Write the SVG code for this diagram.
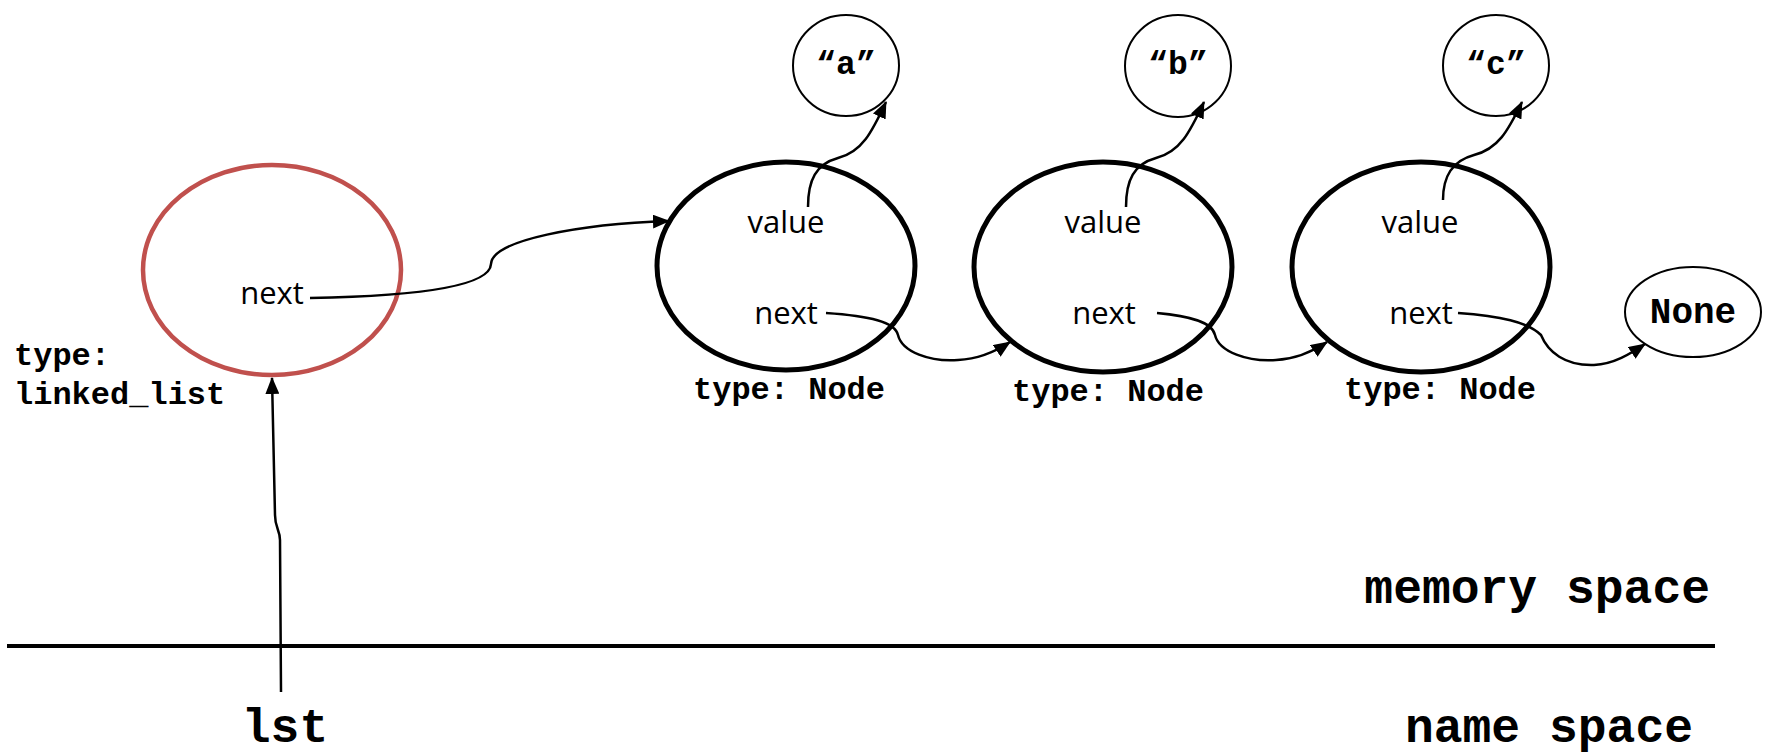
<svg xmlns="http://www.w3.org/2000/svg" width="1772" height="753" viewBox="0 0 1772 753">
<defs>
<marker id="arr" markerUnits="userSpaceOnUse" markerWidth="17" markerHeight="14" refX="16" refY="7" orient="auto">
<path d="M0,0 L17,7 L0,14 z" fill="#000"/>
</marker>
<style>
.lbl{font-family:"Open Sans","Noto Sans",sans-serif;font-size:31px;fill:#000;text-anchor:middle}
.mono{font-family:"Liberation Mono","Courier New",monospace;font-weight:bold;fill:#000}
.node{fill:#fff;stroke:#000;stroke-width:5}
.val{fill:#fff;stroke:#000;stroke-width:2}
.con{fill:none;stroke:#000;stroke-width:2.5;marker-end:url(#arr)}
</style>
</defs>
<rect width="1772" height="753" fill="#fff"/>

<g id="linked_list">
<ellipse cx="272" cy="270" rx="129" ry="105" fill="#fff" stroke="#c0504d" stroke-width="4.5"/>
<text class="lbl" x="272" y="304">next</text>
<text class="mono" x="14" y="365" font-size="32">type:</text>
<text class="mono" x="14" y="404" font-size="32">linked_list</text>
</g>

<g id="node_a">
<ellipse class="node" cx="786" cy="266" rx="129" ry="104"/>
<text class="lbl" x="786" y="233">value</text>
<text class="lbl" x="786" y="324">next</text>
<text class="mono" x="789" y="399" font-size="32" text-anchor="middle">type: Node</text>
</g>
<g id="node_b">
<ellipse class="node" cx="1103" cy="267" rx="129" ry="105"/>
<text class="lbl" x="1103" y="233">value</text>
<text class="lbl" x="1104" y="324">next</text>
<text class="mono" x="1108" y="401" font-size="32" text-anchor="middle">type: Node</text>
</g>
<g id="node_c">
<ellipse class="node" cx="1421" cy="267" rx="129" ry="105"/>
<text class="lbl" x="1420" y="233">value</text>
<text class="lbl" x="1421" y="324">next</text>
<text class="mono" x="1440" y="399" font-size="32" text-anchor="middle">type: Node</text>
</g>

<g id="str_a">
<ellipse class="val" cx="846" cy="65.5" rx="53" ry="50.5"/>
<text class="mono" x="846" y="74" font-size="33" text-anchor="middle">“a”</text>
</g>
<g id="str_b">
<ellipse class="val" cx="1178" cy="66" rx="53" ry="51"/>
<text class="mono" x="1178" y="74" font-size="33" text-anchor="middle">“b”</text>
</g>
<g id="str_c">
<ellipse class="val" cx="1496" cy="65.5" rx="53" ry="50.5"/>
<text class="mono" x="1496" y="74" font-size="33" text-anchor="middle">“c”</text>
</g>
<g id="none">
<ellipse class="val" cx="1693" cy="312" rx="68" ry="45"/>
<text class="mono" x="1693" y="323" font-size="36" text-anchor="middle">None</text>
</g>

<g id="connectors">
<path class="con" d="M310,298 C420,296 490,286 491,264 C492,240 580,224 669,221"/>
<path class="con" d="M808,207 C808,180 816,164 838,158 C862,152 872,132 886,102"/>
<path class="con" d="M1126,207 C1126,180 1134,164 1156,158 C1180,152 1190,132 1204,102"/>
<path class="con" d="M1443,200 C1443,176 1452,161 1474,155 C1498,149 1508,131 1522,102"/>
<path class="con" d="M826,313 C870,316 895,322 898,335 C902,352 930,362 958,360 C978,359 995,352 1010,342"/>
<path class="con" d="M1157,313 C1190,316 1212,322 1215,335 C1219,352 1248,362 1276,360 C1296,359 1312,352 1327,342"/>
<path class="con" d="M1458,313 C1500,316 1528,322 1541,335 C1548,352 1565,366 1594,365 C1614,364 1630,354 1645,344"/>
<path class="con" d="M281,692 L280,540 C280,530 275,528 275,515 L272,378"/>
</g>

<g id="divider">
<line x1="7" y1="646" x2="1715" y2="646" stroke="#000" stroke-width="4"/>
<text class="mono" x="1710" y="603" font-size="48" text-anchor="end">memory space</text>
<text class="mono" x="1693" y="742" font-size="48" text-anchor="end">name space</text>
<text class="mono" x="285" y="742" font-size="48" text-anchor="middle">lst</text>
</g>
</svg>
